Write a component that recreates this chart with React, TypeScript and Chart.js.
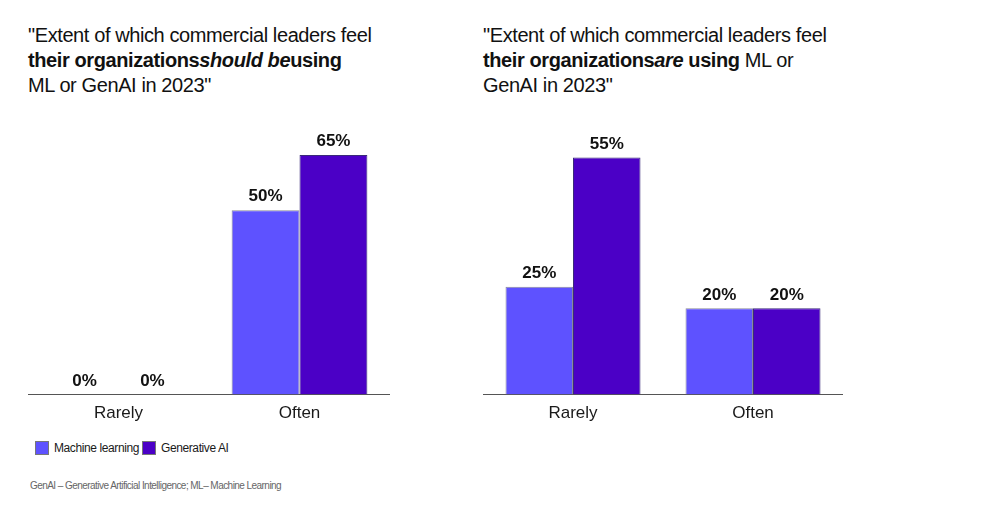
import React, { useEffect, useRef } from "react";
import { Chart, registerables } from "chart.js";

Chart.register(...registerables);

const categories = ["Rarely", "Often"];
const seriesNames = ["Machine learning", "Generative AI"];
const seriesColors = ["#5E52FF", "#4B00C6"];
const shouldML = [0, 50];
const shouldGenAI = [0, 65];
const areML = [25, 20];
const areGenAI = [55, 20];

const FONT = '"Liberation Sans", Arial, sans-serif';

const valueLabels = {
  id: "valueLabels",
  afterDatasetsDraw(chart: any) {
    const ctx = chart.ctx;
    ctx.save();
    ctx.font = `bold 17px ${FONT}`;
    ctx.fillStyle = "#111111";
    ctx.textAlign = "center";
    ctx.textBaseline = "bottom";
    chart.data.datasets.forEach((ds: any, i: number) => {
      const meta = chart.getDatasetMeta(i);
      meta.data.forEach((el: any, j: number) => {
        ctx.fillText(ds.data[j] + "%", el.x, el.y - 5);
      });
    });
    ctx.restore();
  },
};

function BarChart({ ml, gen, max, style }: { ml: number[]; gen: number[]; max: number; style: React.CSSProperties }) {
  const ref = useRef<HTMLCanvasElement>(null);
  useEffect(() => {
    if (!ref.current) return;
    const chart = new Chart(ref.current, {
      type: "bar",
      data: {
        labels: categories,
        datasets: [
          { label: seriesNames[0], data: ml, backgroundColor: seriesColors[0], borderColor: "#8a8a9a", borderWidth: 1, categoryPercentage: 0.75, barPercentage: 1 },
          { label: seriesNames[1], data: gen, backgroundColor: seriesColors[1], borderColor: "#3a2a7a", borderWidth: 1, categoryPercentage: 0.75, barPercentage: 1 },
        ],
      },
      options: {
        animation: false,
        responsive: false,
        maintainAspectRatio: false,
        layout: { padding: 0 },
        plugins: { legend: { display: false }, tooltip: { enabled: false } },
        scales: {
          x: {
            grid: { display: false },
            border: { display: true, color: "#555555", width: 1 },
            ticks: { color: "#1a1a1a", font: { family: FONT, size: 17 }, padding: 1 },
          },
          y: { display: false, min: 0, max },
        },
      },
      plugins: [valueLabels],
    });
    return () => chart.destroy();
  }, []);
  return <canvas ref={ref} width={style.width as number} height={style.height as number} style={{ position: "absolute", ...style }} />;
}

const titleStyle: React.CSSProperties = {
  position: "absolute",
  top: 23,
  fontFamily: FONT,
  fontSize: 20,
  lineHeight: "25px",
  color: "#111111",
  letterSpacing: "-0.4px",
  width: 400,
  margin: 0,
};

export default function App() {
  return (
    <div style={{ position: "absolute", left: 0, top: 0, width: 1000, height: 511, background: "#ffffff", overflow: "hidden", fontFamily: FONT }}>
      <div style={{ ...titleStyle, left: 28 }}>
        "Extent of which commercial leaders feel
        <br />
        <b>their organizations</b>
        <b><i>should be</i></b>
        <b>using</b>
        <br />
        ML or GenAI in 2023"
      </div>
      <div style={{ ...titleStyle, left: 483 }}>
        "Extent of which commercial leaders feel
        <br />
        <b>their organizations</b>
        <b><i>are</i></b> <b>using</b> ML or
        <br />
        GenAI in 2023"
      </div>
      <BarChart ml={shouldML} gen={shouldGenAI} max={77.2} style={{ left: 28, top: 110, width: 362, height: 315 }} />
      <BarChart ml={areML} gen={areGenAI} max={66.0} style={{ left: 483, top: 110, width: 360, height: 315 }} />
      <div style={{ position: "absolute", left: 35, top: 441, display: "flex", alignItems: "center", fontSize: 12, color: "#1a1a1a", letterSpacing: "-0.4px" }}>
        {seriesNames.map((n, i) => (
          <span key={n} style={{ display: "inline-flex", alignItems: "center", marginRight: 3 }}>
            <span style={{ display: "inline-block", width: 12, height: 12, background: seriesColors[i], border: "1px solid #777", marginRight: 5 }} />
            {n}
          </span>
        ))}
      </div>
      <div style={{ position: "absolute", left: 30, top: 480, fontSize: 10, color: "#666666", letterSpacing: "-0.55px" }}>
        GenAI – Generative Artificial Intelligence; ML– Machine Learning
      </div>
    </div>
  );
}
